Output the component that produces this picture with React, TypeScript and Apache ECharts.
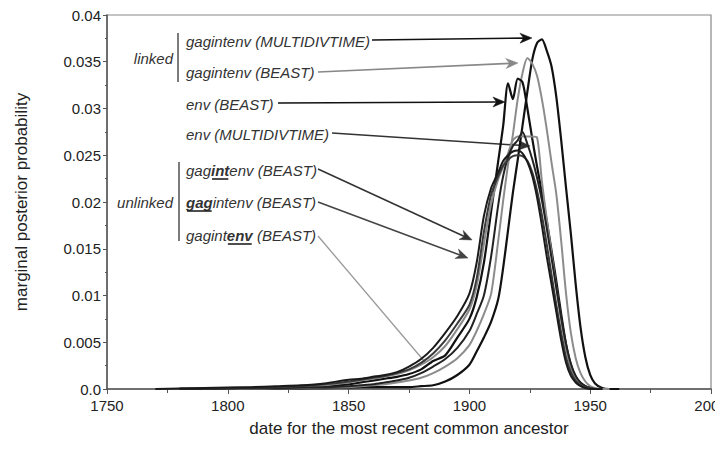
import React, { useEffect, useRef } from "react";
import * as echarts from "echarts";

const years = [1770, 1780, 1790, 1800, 1810, 1820, 1830, 1840, 1850, 1855, 1860, 1865, 1870, 1875, 1880, 1885, 1890, 1895, 1900, 1903, 1906, 1909, 1912, 1914, 1916, 1918, 1920, 1922, 1924, 1926, 1928, 1930, 1932, 1934, 1936, 1938, 1940, 1942, 1944, 1946, 1948, 1950, 1952, 1955, 1958, 1962];

// unlinked gag[int]env (BEAST)
const unlinkedInt = [0, 0.00005, 0.0001, 0.00015, 0.0002, 0.0003, 0.0004, 0.0006, 0.001, 0.0011, 0.0013, 0.0015, 0.0018, 0.0024, 0.0032, 0.0044, 0.006, 0.0078, 0.0102, 0.0135, 0.0185, 0.0215, 0.0232, 0.0244, 0.025, 0.0254, 0.0255, 0.0252, 0.0243, 0.0228, 0.0205, 0.0175, 0.0142, 0.0112, 0.0082, 0.0052, 0.0028, 0.0014, 0.0007, 0.0003, 0.0001, 0, 0, 0, null, null];
// unlinked [gag]intenv (BEAST)
const unlinkedGag = [null, null, 0.00008, 0.0001, 0.00015, 0.0002, 0.0003, 0.0005, 0.0008, 0.001, 0.0012, 0.0014, 0.0017, 0.0021, 0.0028, 0.0038, 0.0052, 0.007, 0.009, 0.0118, 0.0168, 0.0208, 0.0228, 0.0239, 0.0245, 0.0249, 0.025, 0.0249, 0.0244, 0.0232, 0.0212, 0.0186, 0.0155, 0.0122, 0.009, 0.006, 0.0034, 0.0018, 0.0009, 0.0004, 0.0002, 0.0001, 0, 0, null, null];
// unlinked gagint[env] (BEAST)
const unlinkedEnv = [null, null, 0.00005, 0.0001, 0.00015, 0.0002, 0.0003, 0.0004, 0.0007, 0.0009, 0.0011, 0.0013, 0.0016, 0.002, 0.0026, 0.0034, 0.0046, 0.0064, 0.0085, 0.011, 0.0155, 0.0198, 0.0225, 0.0238, 0.0252, 0.0266, 0.027, 0.027, 0.027, 0.027, 0.0269, 0.0222, 0.0182, 0.0145, 0.0108, 0.0074, 0.0044, 0.0023, 0.0011, 0.0005, 0.0002, 0.0001, 0, 0, null, null];
// env (BEAST)
const envBeast = [null, 0.00003, 0.00005, 0.0001, 0.00012, 0.00015, 0.0002, 0.0003, 0.0005, 0.0007, 0.0009, 0.0011, 0.0013, 0.0016, 0.0021, 0.003, 0.0036, 0.0055, 0.0075, 0.0098, 0.0135, 0.019, 0.0245, 0.0282, 0.0327, 0.031, 0.0332, 0.0328, 0.03, 0.0268, 0.0238, 0.021, 0.018, 0.0148, 0.0115, 0.008, 0.0048, 0.0026, 0.0013, 0.0006, 0.0003, 0.0001, 0, 0, null, null];
// env (MULTIDIVTIME)
const envMulti = [null, null, 0.00003, 0.00005, 0.0001, 0.00012, 0.00015, 0.0002, 0.0003, 0.0004, 0.0005, 0.0007, 0.0009, 0.0012, 0.0017, 0.0024, 0.0032, 0.0044, 0.0062, 0.008, 0.01, 0.0142, 0.0198, 0.0228, 0.0248, 0.026, 0.0266, 0.0275, 0.0262, 0.0246, 0.0226, 0.0202, 0.0172, 0.014, 0.0108, 0.0076, 0.0048, 0.0027, 0.0014, 0.0007, 0.0003, 0.0001, 0, 0, null, null];
// linked gagintenv (BEAST)
const gagintenvBeast = [null, null, 0.00002, 0.00003, 0.00005, 0.00008, 0.0001, 0.00015, 0.0002, 0.0003, 0.0004, 0.0005, 0.0007, 0.0009, 0.0012, 0.0017, 0.0024, 0.0033, 0.0047, 0.0062, 0.008, 0.0102, 0.016, 0.0202, 0.024, 0.0272, 0.031, 0.0338, 0.0354, 0.0348, 0.0335, 0.031, 0.0278, 0.0242, 0.0208, 0.0158, 0.0102, 0.006, 0.0033, 0.0017, 0.0008, 0.0003, 0.0001, 0, 0, null];
// linked gagintenv (MULTIDIVTIME)
const gagintenvMulti = [null, null, null, 0.00002, 0.00003, 0.00005, 0.00007, 0.0001, 0.00015, 0.0002, 0.0002, 0.0002, 0.0002, 0.0002, 0.0003, 0.0004, 0.0008, 0.0015, 0.0026, 0.004, 0.0055, 0.0072, 0.0097, 0.013, 0.017, 0.021, 0.0245, 0.0282, 0.0318, 0.0352, 0.037, 0.0374, 0.0362, 0.0345, 0.0312, 0.0266, 0.0215, 0.0166, 0.0112, 0.0066, 0.0034, 0.0015, 0.0006, 0.0001, 0, 0];

const xTicks = [1750, 1800, 1850, 1900, 1950, 2000];
const yTicks = [0, 0.005, 0.01, 0.015, 0.02, 0.025, 0.03, 0.035, 0.04];

// annotation arrow tips in data coordinates [year, probability]
const tipMultiLinked = [1925.9, 0.03754];
const tipBeastLinked = [1920.1, 0.03487];
const tipEnvBeast = [1914.7, 0.0307];
const tipEnvMulti = [1925.1, 0.02599];
const tipInt = [1901.1, 0.01594];
const tipGag = [1899.4, 0.01401];
const tipEnv = [1881.6, 0.00289];

const FONT = '"Liberation Sans", Arial, sans-serif';

export default function App() {
  const ref = useRef<HTMLDivElement>(null);
  useEffect(() => {
    const chart = echarts.init(ref.current!, null, { renderer: "svg", width: 715, height: 454 });
    const mk = (name: string, data: (number | null)[], color: string, width: number) => ({
      name,
      type: "line",
      data: years.map((y, i) => [y, data[i]]),
      showSymbol: false,
      smooth: 0.25,
      connectNulls: false,
      lineStyle: { color, width },
      itemStyle: { color },
      silent: true,
    });
    chart.setOption({
      animation: false,
      grid: {
        left: 107, top: 15, right: 4, bottom: 65, show: true, borderColor: "#888", borderWidth: 1.2,
        containLabel: false, outerBoundsMode: "none",
      },
      xAxis: {
        type: "value",
        min: xTicks[0],
        max: xTicks[xTicks.length - 1],
        interval: 50,
        name: "date for the most recent common ancestor",
        nameLocation: "middle",
        nameGap: 31,
        nameTextStyle: { fontFamily: FONT, fontSize: 17, color: "#222" },
        axisLine: { lineStyle: { color: "#555", width: 1.5 } },
        axisTick: { show: true, length: 5, lineStyle: { color: "#555" } },
        minorTick: { show: true, splitNumber: 2, length: 4, lineStyle: { color: "#555" } },
        splitLine: { show: false },
        axisLabel: { fontFamily: FONT, fontSize: 15, color: "#222", margin: 9, showMaxLabel: true, formatter: (v: number) => String(v) },
      },
      yAxis: {
        type: "value",
        min: yTicks[0],
        max: yTicks[yTicks.length - 1],
        interval: 0.005,
        name: "marginal posterior probability",
        nameLocation: "middle",
        nameGap: 77,
        nameTextStyle: { fontFamily: FONT, fontSize: 17, color: "#222" },
        axisLine: { show: true, lineStyle: { color: "#555", width: 1.5 } },
        axisTick: { show: true, length: 4, lineStyle: { color: "#555" } },
        minorTick: { show: true, splitNumber: 2, length: 2, lineStyle: { color: "#555" } },
        splitLine: { show: false },
        axisLabel: {
          fontFamily: FONT,
          fontSize: 15,
          color: "#222",
          margin: 6,
          formatter: (v: number) => (v === 0 ? "0.0" : String(parseFloat(v.toFixed(3)))),
        },
      },
      series: [
        mk("gagintenv (MULTIDIVTIME)", gagintenvMulti, "#111", 2.2),
        mk("gagintenv (BEAST)", gagintenvBeast, "#8c8c8c", 2),
        mk("env (BEAST)", envBeast, "#111", 2.2),
        mk("gagintenv unlinked env", unlinkedEnv, "#8a8a8a", 2),
        mk("env (MULTIDIVTIME)", envMulti, "#222", 2),
        mk("gagintenv unlinked gag", unlinkedGag, "#3a3a3a", 2),
        mk("gagintenv unlinked int", unlinkedInt, "#1a1a1a", 2),
      ],
    });

    const ctx = document.createElement("canvas").getContext("2d")!;
    const measure = (s: string, bold: boolean) => {
      ctx.font = `italic ${bold ? "bold " : ""}15px ${FONT}`;
      return ctx.measureText(s).width;
    };
    const els: any[] = [];
    const txt = (x: number, y: number, s: string, bold = false, align = "left") => {
      els.push({
        type: "text",
        x,
        y,
        silent: true,
        style: { text: s, fontFamily: FONT, fontSize: 15, fontStyle: "italic", fontWeight: bold ? "bold" : "normal", fill: "#333", align, verticalAlign: "middle" },
      });
    };
    const seg = (x1: number, y1: number, x2: number, y2: number, color: string, w: number) => {
      els.push({ type: "line", silent: true, shape: { x1, y1, x2, y2 }, style: { stroke: color, lineWidth: w } });
    };
    const rich = (x: number, y: number, parts: { t: string; b: boolean }[]) => {
      let cx = x;
      parts.forEach((p) => {
        txt(cx, y, p.t, p.b);
        const w = measure(p.t, p.b);
        if (p.b) seg(cx + 1, y + 9, cx + w - 1, y + 9, "#222", 1.6);
        cx += w;
      });
    };
    const arrow = (sx: number, sy: number, tip: number[], color: string, head = true) => {
      const t = chart.convertToPixel({ gridIndex: 0 }, tip) as number[];
      const dx = t[0] - sx, dy = t[1] - sy;
      const len = Math.hypot(dx, dy);
      const ux = dx / len, uy = dy / len;
      const nx = -uy, ny = ux;
      const L = 12, W = 5;
      if (!head) {
        seg(sx, sy, t[0], t[1], color, 1.3);
        return;
      }
      seg(sx, sy, t[0] - ux * L * 0.6, t[1] - uy * L * 0.6, color, 1.6);
      const bx = t[0] - ux * L, by = t[1] - uy * L;
      const nxp = t[0] - ux * L * 0.7, nyp = t[1] - uy * L * 0.7;
      els.push({
        type: "polygon",
        silent: true,
        shape: { points: [[t[0], t[1]], [bx + nx * W, by + ny * W], [nxp, nyp], [bx - nx * W, by - ny * W]] },
        style: { fill: color, stroke: color, lineWidth: 0.5 },
      });
    };

    // linked group
    txt(173, 58, "linked", false, "right");
    seg(178, 33, 178, 82, "#444", 1.4);
    txt(186, 41, "gagintenv (MULTIDIVTIME)");
    txt(186, 72, "gagintenv (BEAST)");
    txt(186, 104, "env (BEAST)");
    txt(186, 134, "env (MULTIDIVTIME)");
    // unlinked group
    txt(173, 202, "unlinked", false, "right");
    seg(179, 162, 179, 241, "#444", 1.4);
    rich(186, 170, [{ t: "gag", b: false }, { t: "int", b: true }, { t: "env (BEAST)", b: false }]);
    rich(186, 202, [{ t: "gag", b: true }, { t: "intenv (BEAST)", b: false }]);
    rich(186, 235, [{ t: "gagint", b: false }, { t: "env", b: true }, { t: " (BEAST)", b: false }]);

    arrow(372, 40, tipMultiLinked, "#111");
    arrow(318, 72, tipBeastLinked, "#888");
    arrow(278, 103, tipEnvBeast, "#111");
    arrow(332, 133, tipEnvMulti, "#333");
    arrow(318, 169, tipInt, "#333");
    arrow(318, 202, tipGag, "#444");
    arrow(318, 236, tipEnv, "#999", false);

    chart.setOption({ graphic: els });
    return () => chart.dispose();
  }, []);
  return <div ref={ref} style={{ position: "absolute", left: 0, top: 0, width: 715, height: 454, background: "#fff" }} />;
}
